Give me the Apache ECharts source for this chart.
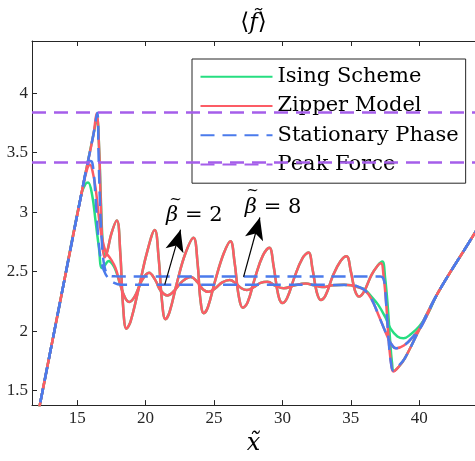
<!DOCTYPE html>
<html><head><meta charset="utf-8">
<script src="https://cdn.jsdelivr.net/npm/echarts@6/dist/echarts.min.js"></script>
<style>html,body{margin:0;padding:0;background:#fff;}#c{width:475px;height:461px;}</style>
</head><body><div id="c"></div>
<script>
const xTicks = [15, 20, 25, 30, 35, 40];
const yTicks = [1.5, 2, 2.5, 3, 3.5, 4];
const legendNames = ['Ising Scheme', 'Zipper Model', 'Stationary Phase', 'Peak Force'];
const peakForces = [3.836, 3.424];

// Zipper model, beta = 8
const zipper8 = [[12.0,1.22],[14.0,2.39],[15.5,3.265],[16.2,3.66],[16.42,3.83],[16.58,3.6],[16.72,3.1],[16.85,2.72],[17.0,2.62],[17.2,2.67],[17.5,2.82],[17.9,2.93],[18.15,2.66],[18.35,2.22],[18.6,2.02],[18.9,2.08],[19.5,2.36],[20.1,2.66],[20.67,2.85],[20.95,2.62],[21.2,2.25],[21.45,2.10],[21.75,2.16],[22.3,2.41],[22.9,2.65],[23.5,2.785],[23.8,2.57],[24.0,2.27],[24.25,2.15],[24.55,2.2],[25.1,2.43],[25.7,2.65],[26.2,2.755],[26.5,2.58],[26.8,2.3],[27.1,2.195],[27.45,2.24],[28.0,2.45],[28.55,2.63],[29.04,2.70],[29.35,2.55],[29.7,2.3],[30.0,2.235],[30.35,2.28],[30.9,2.46],[31.45,2.61],[31.9,2.66],[32.2,2.52],[32.5,2.33],[32.8,2.262],[33.15,2.3],[33.7,2.47],[34.25,2.59],[34.68,2.63],[35.0,2.5],[35.3,2.34],[35.6,2.29],[35.95,2.33],[36.5,2.47],[36.95,2.55],[37.2,2.57],[37.4,2.45],[37.6,2.2],[37.78,1.9],[37.95,1.72],[38.1,1.66],[38.5,1.7],[38.94,1.77],[39.9,1.99],[41.34,2.317],[43.6,2.74],[44.3,2.87]];
// Zipper model, beta = 2
const zipper2 = [[12.0,1.22],[14.0,2.39],[15.4,3.206],[15.75,3.37],[15.94,3.40],[16.15,3.33],[16.35,3.2],[16.7,2.86],[17.07,2.67],[17.43,2.61],[17.8,2.53],[18.15,2.39],[18.5,2.28],[18.8,2.245],[19.2,2.29],[19.75,2.43],[20.25,2.49],[20.7,2.43],[21.1,2.34],[21.6,2.30],[22.1,2.34],[22.7,2.42],[23.3,2.455],[23.8,2.41],[24.2,2.35],[24.6,2.33],[25.1,2.36],[25.6,2.41],[26.15,2.43],[26.6,2.4],[27.0,2.36],[27.4,2.345],[27.9,2.37],[28.4,2.405],[28.9,2.415],[29.5,2.38],[30.1,2.36],[30.9,2.385],[31.7,2.40],[32.3,2.385],[32.9,2.37],[33.7,2.385],[34.5,2.39],[35.0,2.385],[35.5,2.37],[36.0,2.345],[36.5,2.27],[37.0,2.14],[37.5,2.0],[37.9,1.9],[38.3,1.855],[38.9,1.88],[39.6,1.96],[40.2,2.05],[41.34,2.317],[43.6,2.74],[44.3,2.87]];
// Ising scheme, beta = 8 (middle part coincides with zipper8)
const ising8Head = [[12.0,1.22],[14.0,2.39],[15.5,3.265],[16.2,3.66],[16.45,3.79],[16.6,3.55],[16.75,3.05],[16.88,2.72],[17.02,2.63]];
const ising8Tail = [[37.3,2.585],[37.5,2.45],[37.7,2.2],[37.85,1.95],[38.0,1.74],[38.15,1.665],[38.5,1.7],[38.94,1.77],[39.9,1.99],[41.34,2.317],[43.6,2.74],[44.3,2.87]];
// Ising scheme, beta = 2 (middle part coincides with zipper2)
const ising2Head = [[12.0,1.22],[14.0,2.39],[15.3,3.148],[15.6,3.235],[15.8,3.25],[16.1,3.14],[16.35,2.92],[16.59,2.70],[16.8,2.53],[17.0,2.55],[17.3,2.59],[17.6,2.56],[17.85,2.5]];
const ising2Tail = [[36.0,2.35],[36.5,2.29],[37.0,2.22],[37.5,2.12],[37.9,2.02],[38.4,1.955],[38.85,1.94],[39.4,1.975],[40.0,2.04],[40.6,2.14],[41.34,2.317],[43.6,2.74],[44.3,2.87]];
// Stationary phase
const stat8 = [[12.0,1.22],[14.0,2.39],[15.5,3.265],[16.2,3.66],[16.47,3.836],[16.56,3.5],[16.66,3.1],[16.8,2.76],[17.0,2.54],[17.3,2.47],[17.8,2.46],[37.15,2.458],[37.38,2.44],[37.5,2.36],[37.62,2.15],[37.76,1.92],[37.92,1.74],[38.1,1.665],[38.5,1.71],[38.94,1.77],[39.9,1.99],[41.34,2.317],[43.6,2.74],[44.3,2.87]];
const stat2 = [[12.0,1.22],[14.0,2.39],[15.5,3.265],[15.77,3.41],[15.95,3.43],[16.12,3.41],[16.3,3.2],[16.5,2.85],[16.7,2.62],[16.95,2.51],[17.3,2.44],[17.7,2.405],[18.2,2.39],[35.0,2.388],[35.5,2.375],[36.0,2.345],[36.5,2.27],[37.0,2.14],[37.5,2.0],[37.9,1.9],[38.3,1.855],[38.9,1.88],[39.6,1.96],[40.2,2.05],[41.34,2.317],[43.6,2.74],[44.3,2.87]];
// annotations (arrow base, arrow head; label anchor; tilde anchor)
const arrow2 = [[21.4, 2.39], [22.556, 2.853]];
const arrow8 = [[27.16, 2.455], [28.35, 2.955]];
const label2 = [21.5, 2.975];
const label8 = [27.25, 3.04];
const tilde2 = [21.72, 3.105];
const tilde8 = [27.36, 3.175];

const ising8 = ising8Head.concat(zipper8.filter(p => p[0] > 17.1 && p[0] < 37.1), ising8Tail);
const ising2 = ising2Head.concat(zipper2.filter(p => p[0] > 18.0 && p[0] < 35.8), ising2Tail);

const GREEN = '#26de81', RED = '#fc5c65', BLUE = '#4b7bec', PURPLE = '#a55eea';
const DASH = [14, 8];
const AX = '#262626';

function ln(name, data, color, dashed, z) {
  return {
    type: 'line', name: name, data: data, smooth: 0.4, symbol: 'none', showSymbol: false,
    lineStyle: { color: color, width: 2.5, type: dashed ? DASH : 'solid' },
    itemStyle: { color: color }, z: z, silent: true
  };
}

const chart = echarts.init(document.getElementById('c'), null, { renderer: 'canvas' });
const axisCommon = {
  type: 'value', min: 11.7, max: 44.07,
  axisLine: { show: true, onZero: false, lineStyle: { color: AX, width: 1 } },
  splitLine: { show: false }
};
const textLabel = {
  show: true, position: 'right', distance: 0, color: '#000',
  fontFamily: 'DejaVu Serif', fontSize: 21,
  rich: { i: { fontFamily: 'DejaVu Serif', fontStyle: 'italic', fontSize: 21, color: '#000' } }
};
chart.setOption({
  animation: false,
  backgroundColor: '#fff',
  grid: { left: 32, top: 41, width: 449, height: 374 },
  legend: {
    orient: 'vertical', left: 192, top: 59, data: legendNames,
    itemWidth: 72, itemHeight: 14, itemGap: 0, padding: [3, 7, 4, 7.5],
    backgroundColor: '#fff', borderColor: AX, borderWidth: 1, borderRadius: 0,
    selectedMode: false,
    itemStyle: { opacity: 0, borderWidth: 0 },
    textStyle: { fontFamily: 'DejaVu Serif', fontSize: 21, color: '#000', lineHeight: 29.3 }
  },
  xAxis: [
    Object.assign({}, axisCommon, {
      position: 'bottom',
      axisTick: { show: true, inside: true, length: 5, customValues: xTicks, lineStyle: { color: AX } },
      axisLabel: { customValues: xTicks, color: AX, fontFamily: 'Liberation Serif', fontSize: 17, margin: 5 },
      name: 'x\u0303', nameLocation: 'middle', nameGap: 20,
      nameTextStyle: { fontFamily: 'DejaVu Serif', fontStyle: 'italic', fontSize: 24, color: '#000' }
    }),
    Object.assign({}, axisCommon, {
      position: 'top',
      axisTick: { show: true, inside: true, length: 5, customValues: xTicks, lineStyle: { color: AX } },
      axisLabel: { show: false },
      name: '\u27E8{i|f\u0303}\u27E9', nameLocation: 'middle', nameGap: 6,
      nameTextStyle: { fontFamily: 'DejaVu Serif', fontSize: 23, color: '#000',
        rich: { i: { fontFamily: 'DejaVu Serif', fontStyle: 'italic', fontSize: 23, color: '#000' } } }
    })
  ],
  yAxis: {
    type: 'value', min: 1.377, max: 4.44,
    axisLine: { show: true, onZero: false, lineStyle: { color: AX, width: 1 } },
    axisTick: { show: true, inside: true, length: 5, customValues: yTicks, lineStyle: { color: AX } },
    axisLabel: { customValues: yTicks, color: AX, fontFamily: 'Liberation Serif', fontSize: 17, margin: 4 },
    splitLine: { show: false }
  },
  series: [
    {
      type: 'line', name: 'Peak Force', data: [], symbol: 'none', z: 1, silent: true,
      lineStyle: { color: PURPLE, width: 2.5, type: DASH }, itemStyle: { color: PURPLE },
      markLine: {
        silent: true, symbol: ['none', 'none'], label: { show: false }, animation: false,
        lineStyle: { color: PURPLE, width: 2.5, type: DASH },
        data: peakForces.map(v => ({ yAxis: v }))
      }
    },
    ln('Ising Scheme', ising2, GREEN, false, 2),
    ln('Ising Scheme', ising8, GREEN, false, 2),
    ln('Zipper Model', zipper2, RED, false, 3),
    ln('Zipper Model', zipper8, RED, false, 3),
    ln('Stationary Phase', stat2, BLUE, true, 4),
    ln('Stationary Phase', stat8, BLUE, true, 4),
    {
      type: 'line', name: 'annot', data: [], symbol: 'none', z: 6, silent: true,
      markLine: {
        silent: true, animation: false, label: { show: false },
        symbol: ['none', 'arrow'], symbolSize: [0, 16],
        lineStyle: { color: '#000', width: 1.2, type: 'solid' },
        itemStyle: { color: '#000' },
        data: [
          [{ coord: arrow2[0], symbol: 'none' }, { coord: arrow2[1], symbol: 'arrow', symbolSize: [14, 22] }],
          [{ coord: arrow8[0], symbol: 'none' }, { coord: arrow8[1], symbol: 'arrow', symbolSize: [14, 22] }]
        ]
      },
      markPoint: {
        silent: true, animation: false, symbol: 'circle', symbolSize: 0,
        itemStyle: { color: 'rgba(0,0,0,0)' },
        label: textLabel,
        data: [
          { coord: label2, label: { formatter: '{i|\u03B2} = 2' } },
          { coord: label8, label: { formatter: '{i|\u03B2} = 8' } },
          { coord: tilde2, label: { formatter: '~', fontSize: 15 } },
          { coord: tilde8, label: { formatter: '~', fontSize: 15 } }
        ]
      }
    }
  ]
});
</script>
</body></html>
